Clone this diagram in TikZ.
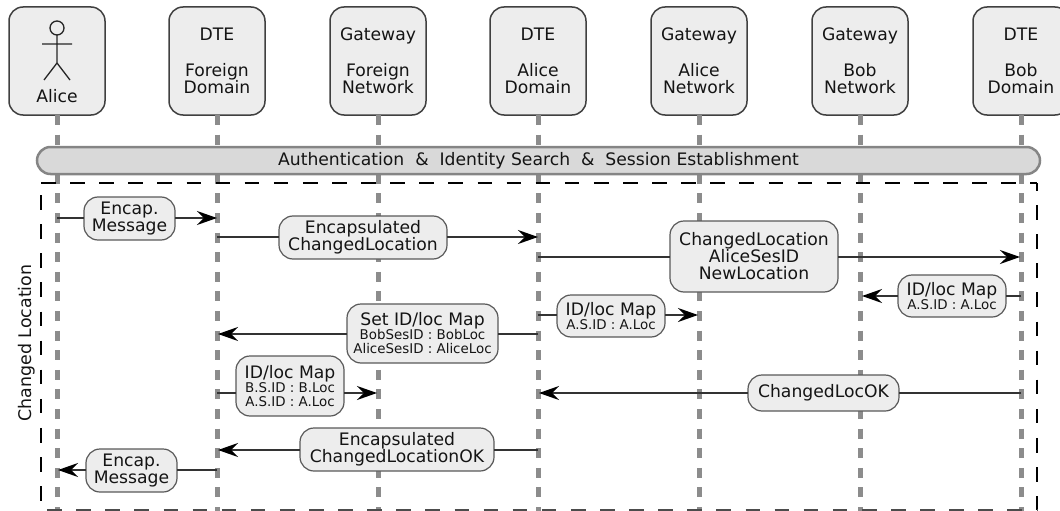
\documentclass[tikz,border=0pt]{standalone}
\usepackage{fontspec}
\setmainfont{DejaVu Sans}
\usetikzlibrary{arrows.meta}
\newcommand{\sm}[1]{{\fontsize{13.4}{13}\selectfont #1}}
\tikzset{
  x=1pt,y=-1pt,
  every node/.style={inner sep=0pt,outer sep=0pt,font=\fontsize{17.2}{17}\selectfont,text=black!92},
  head/.style={draw=black!75,line width=1.5pt,fill=black!7,rounded corners=14pt,minimum width=96pt,minimum height=108pt,align=center},
  lifeline/.style={draw=black!45,line width=5pt,dash pattern=on 10pt off 9.6pt},
  lab/.style={draw=black!65,line width=1.2pt,fill=black!7,rounded corners=14pt,align=center},
  msg/.style={draw=black!80,line width=1.4pt},
  msgarrow/.style={msg,-{Stealth[length=20pt,width=14pt,inset=7pt,color=black]}},
  bar/.style={draw=black!48,line width=2.5pt,fill=black!15,rounded corners=13.5pt,minimum width=1003pt,minimum height=27pt},
  grouptop/.style={draw=black,line width=1.1pt,dash pattern=on 14.6pt off 14.5pt},
  groupbottom/.style={draw=black!70,line width=2pt,dash pattern=on 14.6pt off 14.5pt},
  actor/.style={draw=black!85,line width=1.3pt}
}
\begin{document}
\begin{tikzpicture}
\useasboundingbox (0,0) rectangle (1060,511);
% heads
\node[head] (a) at (57,61) {};
\node[head] (fd) at (217,61) {\strut DTE\\[17pt]Foreign\\Domain};
\node[head] (fn) at (378,61) {\strut Gateway\\[17pt]Foreign\\Network};
\node[head] (ad) at (538,61) {\strut DTE\\[17pt]Alice\\Domain};
\node[head] (an) at (699,61) {\strut Gateway\\[17pt]Alice\\Network};
\node[head] (bn) at (860,61) {\strut Gateway\\[17pt]Bob\\Network};
\node[head] (bd) at (1021,61) {\strut DTE\\[17pt]Bob\\Domain};
\node (alicename) at (57,96) {Alice};
% lifeline ends
\foreach \n/\x in {a/57,fd/217,fn/378,ad/538,an/699,bn/860,bd/1021}{
  \coordinate (\n end) at (\x,511);
  \draw[lifeline] (\n.south) -- (\n end);
}
% actor
\draw[actor] (57,28) circle (7);
\draw[actor] (57,35) -- (57,63) (42,44) -- (72,44) (44,80) -- (57,63) -- (70,80);
% bar and group
\node[bar] (auth) at (538.5,160.5) {Authentication\ \ \&\ \ Identity Search\ \ \&\ \ Session Establishment};
\coordinate (gtl) at (41,183); \coordinate (gtr) at (1037,183);
\coordinate (gbl) at (41,509.5); \coordinate (gbr) at (1037,509.5);
\draw[grouptop] (gtl) -- (gtr);
\draw[grouptop,dash phase=7pt] (gtr) -- (gbr);
\draw[grouptop,dash phase=17pt] (gtl) -- (gbl);
\draw[groupbottom,dash phase=23pt] (gbl) -- (gbr);
\node[rotate=90,font=\fontsize{17.4}{17}\selectfont] (grplabel) at (27,343) {Changed Location};
% message ends
\coordinate (m1s) at (57,218);   \coordinate (m1e) at (217,218);
\coordinate (m2s) at (217,237);  \coordinate (m2e) at (538,237);
\coordinate (m3s) at (538,257);  \coordinate (m3e) at (1020,257);
\coordinate (m4s) at (1021,296); \coordinate (m4e) at (862,296);
\coordinate (m5s) at (538,315);  \coordinate (m5e) at (698,315);
\coordinate (m6s) at (538,334);  \coordinate (m6e) at (218,334);
\coordinate (m7s) at (217,393);  \coordinate (m7e) at (377,393);
\coordinate (m8s) at (1021,393); \coordinate (m8e) at (539,393);
\coordinate (m9s) at (538,450);  \coordinate (m9e) at (218,450);
\coordinate (m10s) at (217,470); \coordinate (m10e) at (58,470);
% labels
\node[lab,minimum width=91pt,minimum height=43pt] (l1) at (129.5,218.5) {Encap.\\Message};
\node[lab,minimum width=168pt,minimum height=43pt] (l2) at (363,237.5) {Encapsulated\\ChangedLocation};
\node[lab,minimum width=168pt,minimum height=71pt] (l3) at (754,256.5) {ChangedLocation\\AliceSesID\\NewLocation};
\node[lab,minimum width=108pt,minimum height=42pt] (l4) at (952,296) {ID/loc Map\\[-3pt]\sm{A.S.ID : A.Loc}};
\node[lab,minimum width=108pt,minimum height=42pt] (l5) at (611,316) {ID/loc Map\\[-3pt]\sm{A.S.ID : A.Loc}};
\node[lab,minimum width=151pt,minimum height=59pt] (l6) at (422.5,333.5) {Set ID/loc Map\\[-3pt]\sm{BobSesID : BobLoc}\\[-3pt]\sm{AliceSesID : AliceLoc}};
\node[lab,minimum width=108pt,minimum height=60pt] (l7) at (290,386) {ID/loc Map\\[-3pt]\sm{B.S.ID : B.Loc}\\[-3pt]\sm{A.S.ID : A.Loc}};
\node[lab,minimum width=151pt,minimum height=36pt] (l8) at (823.5,393) {ChangedLocOK};
\node[lab,minimum width=194pt,minimum height=43pt] (l9) at (397,449.5) {Encapsulated\\ChangedLocationOK};
\node[lab,minimum width=91pt,minimum height=43pt] (l10) at (131.5,470.5) {Encap.\\Message};
% connectors
\draw[msg] (m1s) -- (l1.west |- m1s);   \draw[msgarrow] (l1.east |- m1s) -- (m1e);
\draw[msg] (m2s) -- (l2.west |- m2s);   \draw[msgarrow] (l2.east |- m2s) -- (m2e);
\draw[msg] (m3s) -- (l3.west |- m3s);   \draw[msgarrow] (l3.east |- m3s) -- (m3e);
\draw[msg] (m4s) -- (l4.east |- m4s);   \draw[msgarrow] (l4.west |- m4s) -- (m4e);
\draw[msg] (m5s) -- (l5.west |- m5s);   \draw[msgarrow] (l5.east |- m5s) -- (m5e);
\draw[msg] (m6s) -- (l6.east |- m6s);   \draw[msgarrow] (l6.west |- m6s) -- (m6e);
\draw[msg] (m7s) -- (l7.west |- m7s);   \draw[msgarrow] (l7.east |- m7s) -- (m7e);
\draw[msg] (m8s) -- (l8.east |- m8s);   \draw[msgarrow] (l8.west |- m8s) -- (m8e);
\draw[msg] (m9s) -- (l9.east |- m9s);   \draw[msgarrow] (l9.west |- m9s) -- (m9e);
\draw[msg] (m10s) -- (l10.east |- m10s);\draw[msgarrow] (l10.west |- m10s) -- (m10e);
\end{tikzpicture}
\end{document}
